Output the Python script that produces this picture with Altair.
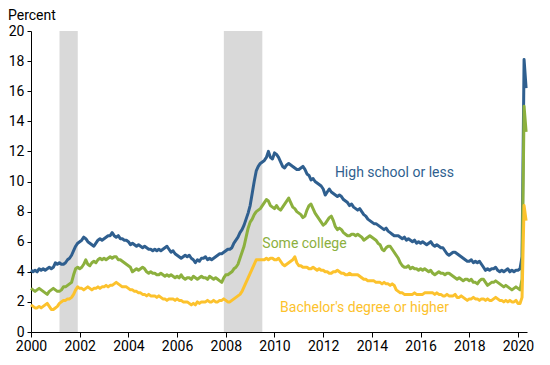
import altair as alt
import pandas as pd

# Monthly unemployment rates (percent), Jan 2000 - May 2020
high_school = [
    4.1, 4.0, 4.1, 4.0, 4.2, 4.1, 4.2, 4.1, 4.2, 4.3, 4.2, 4.3,   # 2000
    4.6, 4.5, 4.6, 4.5, 4.5, 4.6, 4.8, 4.9, 5.1, 5.4, 5.7, 5.9,   # 2001
    6.0, 6.1, 6.3, 6.2, 6.0, 5.9, 5.8, 5.7, 5.9, 6.1, 6.2, 6.1,   # 2002
    6.2, 6.3, 6.4, 6.4, 6.6, 6.4, 6.3, 6.4, 6.2, 6.2, 6.1, 6.1,   # 2003
    6.0, 5.8, 5.9, 5.8, 5.7, 5.8, 5.7, 5.6, 5.7, 5.6, 5.5, 5.5,   # 2004
    5.4, 5.5, 5.4, 5.5, 5.4, 5.5, 5.6, 5.7, 5.5, 5.3, 5.4, 5.2,   # 2005
    5.1, 5.0, 4.9, 5.0, 5.1, 5.0, 5.1, 4.9, 4.8, 4.6, 4.8, 4.7,   # 2006
    4.9, 4.9, 5.0, 4.8, 4.9, 4.8, 4.9, 5.0, 5.1, 5.2, 5.2, 5.3,   # 2007
    5.4, 5.5, 5.5, 5.6, 5.9, 6.1, 6.3, 6.6, 6.8, 7.1, 7.5, 7.9,   # 2008
    8.4, 9.2, 10.0, 10.7, 11.0, 11.2, 11.3, 11.4, 11.6, 12.0, 11.6, 11.5,  # 2009
    11.9, 11.8, 11.6, 11.3, 11.0, 10.9, 11.1, 11.2, 11.1, 11.0, 10.9, 10.8,  # 2010
    10.8, 10.9, 11.0, 10.8, 10.5, 10.4, 10.1, 10.2, 10.0, 9.9, 9.8, 9.7,  # 2011
    9.5, 9.1, 9.3, 9.5, 9.3, 9.2, 9.1, 9.0, 9.1, 9.0, 8.8, 8.7,   # 2012
    8.6, 8.4, 8.5, 8.3, 8.2, 8.1, 8.2, 8.0, 7.8, 7.7, 7.5, 7.4,   # 2013
    7.3, 7.2, 7.2, 7.1, 7.0, 6.9, 6.8, 6.9, 6.7, 6.6, 6.5, 6.4,   # 2014
    6.4, 6.4, 6.3, 6.2, 6.3, 6.1, 6.2, 6.1, 6.0, 6.1, 5.9, 6.0,   # 2015
    5.9, 6.0, 5.9, 5.8, 5.9, 6.0, 5.8, 5.7, 5.8, 5.7, 5.6, 5.6,   # 2016
    5.4, 5.2, 5.1, 5.2, 5.3, 5.3, 5.2, 5.1, 5.0, 4.9, 4.8, 4.7,   # 2017
    4.7, 4.8, 4.6, 4.7, 4.6, 4.7, 4.5, 4.3, 4.1, 4.2, 4.1, 4.2,   # 2018
    4.2, 4.3, 4.1, 4.0, 4.1, 4.0, 4.1, 4.2, 4.0, 4.1, 4.0, 4.1,   # 2019
    4.1, 4.2, 5.0, 18.1, 16.2,                                     # 2020
]
some_college = [
    2.9, 2.8, 2.7, 2.8, 2.9, 2.8, 2.7, 2.6, 2.5, 2.7, 2.8, 2.9,   # 2000
    2.8, 2.7, 2.7, 2.8, 3.0, 3.0, 3.1, 3.2, 3.3, 3.8, 4.2, 4.3,   # 2001
    4.2, 4.3, 4.5, 4.8, 4.5, 4.4, 4.6, 4.7, 4.6, 4.8, 4.9, 4.8,   # 2002
    4.9, 4.8, 4.9, 5.0, 4.9, 5.0, 5.0, 4.8, 4.8, 4.7, 4.6, 4.5,   # 2003
    4.4, 4.3, 4.0, 4.1, 4.2, 4.1, 4.2, 4.3, 4.2, 4.0, 3.9, 4.0,   # 2004
    3.9, 3.9, 3.8, 3.8, 3.9, 3.8, 3.7, 3.8, 3.7, 3.8, 3.7, 3.6,   # 2005
    3.7, 3.6, 3.8, 3.6, 3.5, 3.6, 3.6, 3.5, 3.7, 3.6, 3.5, 3.6,   # 2006
    3.7, 3.6, 3.6, 3.5, 3.7, 3.6, 3.5, 3.6, 3.5, 3.4, 3.3, 3.6,   # 2007
    3.8, 3.8, 3.9, 4.0, 4.2, 4.3, 4.5, 4.9, 5.3, 5.7, 6.3, 6.9,   # 2008
    7.3, 7.5, 7.8, 8.0, 8.1, 8.2, 8.4, 8.6, 8.8, 8.7, 8.4, 8.3,   # 2009
    8.2, 8.4, 8.2, 8.1, 8.3, 8.5, 8.7, 8.9, 8.6, 8.3, 8.2, 8.0,   # 2010
    7.9, 7.8, 7.6, 7.7, 8.1, 8.4, 8.5, 8.2, 7.9, 7.7, 7.5, 7.3,   # 2011
    7.1, 7.2, 7.4, 7.6, 7.7, 7.4, 7.0, 6.8, 6.9, 6.8, 6.6, 6.5,   # 2012
    6.4, 6.4, 6.5, 6.5, 6.4, 6.5, 6.4, 6.3, 6.1, 6.2, 6.3, 6.4,   # 2013
    6.3, 6.2, 6.1, 5.9, 5.8, 5.5, 5.4, 5.6, 5.7, 5.7, 5.5, 5.3,   # 2014
    5.1, 4.9, 4.6, 4.4, 4.3, 4.3, 4.4, 4.2, 4.3, 4.2, 4.2, 4.1,   # 2015
    4.2, 4.1, 4.2, 4.1, 4.0, 4.1, 3.9, 3.8, 3.9, 4.0, 3.9, 3.9,   # 2016
    3.8, 3.9, 3.9, 3.8, 3.7, 3.6, 3.5, 3.6, 3.5, 3.4, 3.5, 3.5,   # 2017
    3.4, 3.5, 3.3, 3.3, 3.2, 3.4, 3.5, 3.5, 3.3, 3.1, 3.2, 3.3,   # 2018
    3.3, 3.4, 3.3, 3.2, 3.1, 3.0, 3.1, 3.0, 2.9, 2.8, 2.9, 3.0,   # 2019
    2.9, 2.8, 3.5, 15.0, 13.3,                                     # 2020
]
bachelors = [
    1.8, 1.7, 1.6, 1.6, 1.7, 1.6, 1.7, 1.8, 1.9, 1.7, 1.5, 1.5,   # 2000
    1.6, 1.7, 1.9, 2.0, 2.1, 2.1, 2.2, 2.2, 2.3, 2.5, 2.8, 3.0,   # 2001
    2.9, 2.9, 2.8, 2.9, 3.0, 2.9, 2.8, 2.9, 2.9, 3.0, 2.9, 3.0,   # 2002
    3.0, 3.1, 3.0, 3.1, 3.1, 3.2, 3.3, 3.2, 3.1, 3.0, 3.0, 3.0,   # 2003
    2.9, 2.8, 2.8, 2.7, 2.7, 2.6, 2.6, 2.5, 2.5, 2.4, 2.5, 2.4,   # 2004
    2.4, 2.4, 2.3, 2.4, 2.3, 2.2, 2.2, 2.1, 2.2, 2.2, 2.2, 2.1,   # 2005
    2.2, 2.1, 2.1, 2.0, 2.0, 2.0, 1.9, 1.8, 1.9, 1.8, 2.0, 1.9,   # 2006
    2.0, 2.0, 2.0, 2.1, 2.0, 2.0, 2.1, 2.0, 2.0, 2.1, 2.1, 2.2,   # 2007
    2.1, 2.0, 2.0, 2.1, 2.2, 2.3, 2.4, 2.5, 2.7, 3.0, 3.3, 3.6,   # 2008
    3.9, 4.2, 4.5, 4.8, 4.8, 4.8, 4.8, 4.8, 4.9, 4.8, 4.9, 4.9,   # 2009
    4.8, 4.8, 4.9, 4.7, 4.5, 4.4, 4.5, 4.6, 4.7, 4.8, 5.0, 4.6,   # 2010
    4.4, 4.4, 4.3, 4.3, 4.3, 4.2, 4.2, 4.3, 4.2, 4.1, 4.2, 4.1,   # 2011
    4.1, 4.0, 4.0, 3.9, 3.9, 4.0, 4.0, 4.1, 4.0, 3.9, 3.9, 3.8,   # 2012
    3.8, 3.9, 3.8, 3.8, 3.8, 3.8, 3.7, 3.6, 3.5, 3.5, 3.4, 3.4,   # 2013
    3.4, 3.4, 3.3, 3.3, 3.3, 3.2, 3.3, 3.2, 3.2, 3.1, 3.2, 3.1,   # 2014
    2.8, 2.7, 2.6, 2.6, 2.5, 2.5, 2.5, 2.5, 2.5, 2.6, 2.5, 2.5,   # 2015
    2.5, 2.5, 2.6, 2.6, 2.6, 2.6, 2.6, 2.5, 2.6, 2.5, 2.5, 2.4,   # 2016
    2.4, 2.5, 2.4, 2.4, 2.4, 2.5, 2.3, 2.3, 2.4, 2.3, 2.2, 2.1,   # 2017
    2.2, 2.2, 2.3, 2.2, 2.2, 2.1, 2.2, 2.2, 2.1, 2.2, 2.1, 2.1,   # 2018
    2.2, 2.3, 2.2, 2.1, 2.1, 2.0, 2.1, 2.0, 2.1, 2.0, 2.0, 2.1,   # 2019
    1.9, 1.9, 2.3, 8.4, 7.4,                                       # 2020
]

series_names = ["High school or less", "Some college", "Bachelor's degree or higher"]
series_colors = ["#2f5f8f", "#8cb03e", "#fcc22d"]
label_colors = ["#2f5f8f", "#8cb03e", "#f2b324"]

recession_start = [2001.17, 2007.92]
recession_end = [2001.92, 2009.5]

# label anchor positions (decimal year, percent)
label_x = [2012.48, 2009.5, 2010.23]
label_y = [10.27, 5.61, 1.3]

x_ticks = list(range(2000, 2021, 2))
y_ticks = list(range(0, 21, 2))

rows = []
for name, vals in zip(series_names, [high_school, some_college, bachelors]):
    for i, v in enumerate(vals):
        rows.append({"t": 2000 + i / 12.0, "v": v, "s": name})
df = pd.DataFrame(rows)

rec = pd.DataFrame({"start": recession_start, "end": recession_end,
                    "lo": [0, 0], "hi": [20, 20]})
labels = pd.DataFrame({"s": series_names, "x": label_x, "y": label_y})

xscale = alt.Scale(domain=[2000, 2020.37], nice=False, zero=False)
yscale = alt.Scale(domain=[0, 20], nice=False)
color_scale = alt.Scale(domain=series_names, range=series_colors)
label_scale = alt.Scale(domain=series_names, range=label_colors)

xaxis = alt.Axis(values=x_ticks, format="d", grid=False, tickSize=5,
                 labelPadding=2, title=None, labelFontSize=14,
                 labelFont="Roboto", labelColor="#000", domainColor="#000",
                 tickColor="#000", labelFlush=False, labelOverlap=False)
yaxis = alt.Axis(values=y_ticks, grid=False, tickSize=4, labelPadding=3,
                 title=None, labelFontSize=14, labelFont="Roboto",
                 labelColor="#000", domainColor="#000", tickColor="#000",
                 labelOverlap=False, tickCount=11)

bars = alt.Chart(rec).mark_rect(color="#d9d9d9").encode(
    x=alt.X("start:Q", scale=xscale, axis=xaxis),
    x2="end:Q",
    y=alt.Y("lo:Q", scale=yscale, axis=yaxis),
    y2="hi:Q",
)

lines = alt.Chart(df).mark_line(strokeWidth=3, strokeJoin="round").encode(
    x=alt.X("t:Q", scale=xscale, axis=xaxis),
    y=alt.Y("v:Q", scale=yscale, axis=yaxis),
    color=alt.Color("s:N", scale=color_scale, legend=None),
    order=alt.Order("t:Q"),
)

texts = alt.Chart(labels).mark_text(align="left", baseline="alphabetic",
                                    font="Roboto", fontSize=14).encode(
    x=alt.X("x:Q", scale=xscale, axis=xaxis),
    y=alt.Y("y:Q", scale=yscale, axis=yaxis),
    text="s:N",
    color=alt.Color("s:N", scale=label_scale, legend=None),
)

ytitle = alt.Chart(pd.DataFrame({"t": ["Percent"]})).mark_text(
    align="left", baseline="alphabetic", font="Roboto", fontSize=14, color="#000"
).encode(x=alt.value(-23), y=alt.value(-11), text="t:N")

chart = alt.layer(bars, lines, texts, ytitle).properties(
    width=496, height=301,
    autosize=alt.AutoSizeParams(type="none"),
    padding={"left": 23, "top": 23, "right": 15, "bottom": 25},
).configure_view(stroke=None)

chart.save("out.html", embed_options={"renderer": "svg", "actions": False})
